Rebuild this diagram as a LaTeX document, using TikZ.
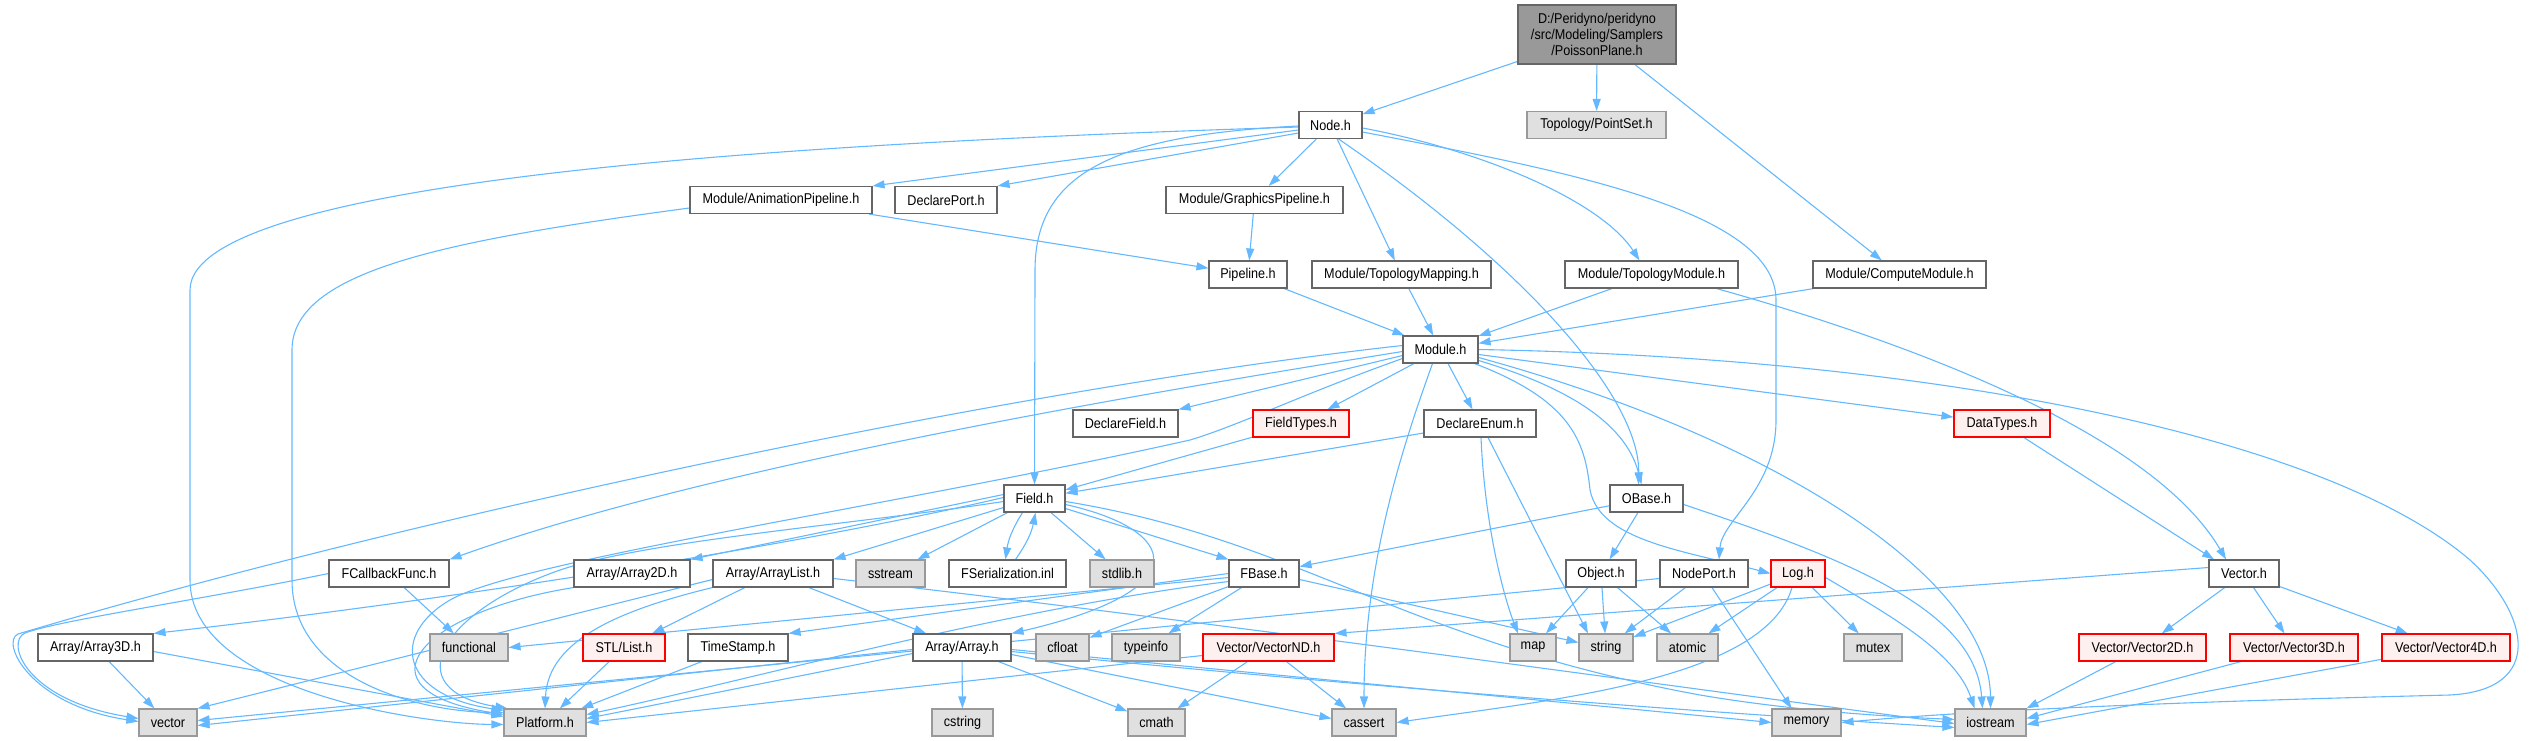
\documentclass[tikz,border=0pt]{standalone}
\usepackage{fontspec}
\setmainfont{Liberation Sans}[FakeStretch=0.89]
\usetikzlibrary{arrows.meta}
\definecolor{edgec}{HTML}{63B8FF}
\definecolor{bordc}{HTML}{666666}
\definecolor{sysfill}{HTML}{E0E0E0}
\definecolor{sysbord}{HTML}{999999}
\definecolor{redfill}{HTML}{FFF0F0}
\definecolor{rootfill}{HTML}{999999}
\pgfdeclarelayer{bg}
\pgfsetlayers{bg,main}
\begin{document}
\begin{tikzpicture}[x=1pt,y=-1pt,
  font=\fontsize{14.2}{16.2}\selectfont,
  nd/.style={draw=bordc, fill=white, line width=1.1pt, minimum height=27pt, inner sep=1pt, text=black},
  sysbox/.style={nd, draw=sysbord, fill=sysfill},
  redbox/.style={nd, draw=red, fill=redfill},
  rootbox/.style={nd, fill=rootfill, align=center},
  ed/.style={draw=edgec, line width=1.1pt, -{Triangle[length=12pt,width=8pt]}}]
\useasboundingbox (0,0) rectangle (2534,741);
% row 0-1
\node[rootbox, minimum width=158pt, minimum height=59pt] (root) at (1597,34.5) {D:/Peridyno/peridyno\\/src/Modeling/Samplers\\/PoissonPlane.h};
\node[nd, minimum width=63pt] (node) at (1330.5,125) {Node.h};
\node[sysbox, minimum width=139pt] (pointset) at (1596.5,125) {Topology/PointSet.h};
% row 2
\node[nd, minimum width=182pt] (animpipe) at (781,200) {Module/AnimationPipeline.h};
\node[nd, minimum width=102pt] (declareport) at (946,200) {DeclarePort.h};
\node[nd, minimum width=177pt] (graphpipe) at (1254.5,200) {Module/GraphicsPipeline.h};
% row 3
\node[nd, minimum width=78pt] (pipeline) at (1248,274.5) {Pipeline.h};
\node[nd, minimum width=179pt] (topomapping) at (1401.5,274.5) {Module/TopologyMapping.h};
\node[nd, minimum width=173pt] (topomodule) at (1651.5,274.5) {Module/TopologyModule.h};
\node[nd, minimum width=173pt] (compute) at (1899.5,274.5) {Module/ComputeModule.h};
% row 4
\node[nd, minimum width=75pt] (module) at (1440.5,349.5) {Module.h};
% row 5
\node[nd, minimum width=105pt] (declarefield) at (1125.5,423.5) {DeclareField.h};
\node[redbox, minimum width=96pt] (fieldtypes) at (1301,423.5) {FieldTypes.h};
\node[nd, minimum width=112pt] (declareenum) at (1480,423.5) {DeclareEnum.h};
\node[redbox, minimum width=96pt] (datatypes) at (2002,423.5) {DataTypes.h};
% row 6
\node[nd, minimum width=61pt] (field) at (1034.5,498.5) {Field.h};
\node[nd, minimum width=73pt] (obase) at (1646.5,498.5) {OBase.h};
% row 7
\node[nd, minimum width=120pt] (fcallback) at (389,573.5) {FCallbackFunc.h};
\node[nd, minimum width=116pt] (array2d) at (632,573.5) {Array/Array2D.h};
\node[nd, minimum width=120pt] (arraylist) at (773,573.5) {Array/ArrayList.h};
\node[sysbox, minimum width=69pt] (sstream) at (890.5,573.5) {sstream};
\node[nd, minimum width=117pt] (fserial) at (1007.5,573.5) {FSerialization.inl};
\node[sysbox, minimum width=64pt] (stdlib) at (1122,573.5) {stdlib.h};
\node[nd, minimum width=70pt] (fbase) at (1264,573.5) {FBase.h};
\node[nd, minimum width=70pt] (object) at (1601,573.5) {Object.h};
\node[nd, minimum width=88pt] (nodeport) at (1704,573.5) {NodePort.h};
\node[redbox, minimum width=54pt] (log) at (1798,573.5) {Log.h};
\node[nd, minimum width=70pt] (vector) at (2244,573.5) {Vector.h};
% row 8
\node[nd, minimum width=115pt] (array3d) at (95.5,647.5) {Array/Array3D.h};
\node[sysbox, minimum width=78pt] (functional) at (469,647.5) {functional};
\node[redbox, minimum width=82pt] (stllist) at (624,647.5) {STL/List.h};
\node[nd, minimum width=100pt] (timestamp) at (738,647.5) {TimeStamp.h};
\node[nd, minimum width=98pt] (array) at (962,647.5) {Array/Array.h};
\node[sysbox, minimum width=53pt] (cfloat) at (1062.5,647.5) {cfloat};
\node[sysbox, minimum width=68pt] (typeinfo) at (1146,647.5) {typeinfo};
\node[redbox, minimum width=131pt] (vectornd) at (1268.5,647.5) {Vector/VectorND.h};
\node[sysbox, minimum width=46pt] (map) at (1533,647.5) {map};
\node[sysbox, minimum width=54pt] (string) at (1606,647.5) {string};
\node[sysbox, minimum width=61pt] (atomic) at (1687.5,647.5) {atomic};
\node[sysbox, minimum width=58pt] (mutex) at (1873,647.5) {mutex};
\node[redbox, minimum width=127pt] (vector2d) at (2142.5,647.5) {Vector/Vector2D.h};
\node[redbox, minimum width=128pt] (vector3d) at (2294,647.5) {Vector/Vector3D.h};
\node[redbox, minimum width=128pt] (vector4d) at (2446,647.5) {Vector/Vector4D.h};
% row 9
\node[sysbox, minimum width=58pt] (vec) at (168,722.5) {vector};
\node[sysbox, minimum width=82pt] (platform) at (545,722.5) {Platform.h};
\node[sysbox, minimum width=61pt] (cstring) at (962.5,722.5) {cstring};
\node[sysbox, minimum width=57pt] (cmath) at (1156.5,722.5) {cmath};
\node[sysbox, minimum width=64pt] (cassert) at (1364,722.5) {cassert};
\node[sysbox, minimum width=69pt] (memory) at (1806.5,722.5) {memory};
\node[sysbox, minimum width=71pt] (iostream) at (1990.5,722.5) {iostream};

\begin{pgfonlayer}{bg}
% root
\draw[ed] (root) -- (node);
\draw[ed] (root) -- (pointset);
\draw[ed] (root) -- (compute);
% Node.h
\draw[ed] ([yshift=-2pt]node.west) .. controls (900,140) and (190,170) .. (190,290) -- (190,580) .. controls (190,690) and (420,724) .. ([yshift=-2pt]platform.west);
\draw[ed] ([yshift=-1pt]node.west) .. controls (1120,135) and (1035,170) .. (1035,270) -- (field.north);
\draw[ed] ([yshift=-5pt]node.west) -- (animpipe.north east);
\draw[ed] ([yshift=-8pt]node.west) -- (declareport.north east);
\draw[ed] (node) -- (graphpipe);
\draw[ed] (node) -- (topomapping);
\draw[ed] (node.-60) .. controls (1530,270) and (1640,400) .. ([xshift=-8pt]obase.north);
\draw[ed] ([yshift=-3pt]node.east) .. controls (1480,150) and (1600,200) .. ([xshift=-12pt]topomodule.north);
\draw[ed] ([yshift=-7pt]node.east) .. controls (1560,170) and (1776,210) .. (1776,300) -- (1776,420) .. controls (1776,490) and (1722,520) .. ([xshift=15pt]nodeport.north);
% pipelines
\draw[ed] (animpipe) -- (pipeline);
\draw[ed] ([yshift=-8pt]animpipe.west) .. controls (450,240) and (292,270) .. (292,350) -- (292,580) .. controls (292,680) and (420,712) .. ([yshift=10pt]platform.west);
\draw[ed] (graphpipe) -- (pipeline);
\draw[ed] (pipeline) -- (module);
\draw[ed] (topomapping) -- (module);
\draw[ed] (topomodule) -- (module);
\draw[ed] (compute) -- (module);
\draw[ed] ([xshift=-22pt]topomodule.south east) .. controls (1900,340) and (2150,430) .. ([xshift=-18pt]vector.north);
\draw[ed] (datatypes) -- ([xshift=-30pt]vector.north);
% Module.h
\draw[ed] ([yshift=4pt]module.west) .. controls (1000,390) and (400,520) .. (18,634) .. controls (0,642) and (30,705) .. ([yshift=1pt]vec.west);
\draw[ed] ([yshift=-2pt]module.west) .. controls (1100,400) and (700,470) .. (fcallback.north east);
\draw[ed] ([yshift=-6pt]module.west) -- (declarefield.north east);
\draw[ed] ([yshift=-9pt]module.west) .. controls (1300,395) and (1240,425) .. (1190,440) .. controls (900,505) and (520,560) .. (450,600) .. controls (390,635) and (400,695) .. ([yshift=-2pt]platform.north west);
\draw[ed] (module) -- (fieldtypes);
\draw[ed] ([xshift=-8pt]module.south) .. controls (1405,440) and (1364,560) .. (cassert.north);
\draw[ed] (module) -- (declareenum);
\draw[ed] (module) -- (datatypes);
\draw[ed] (module.east) .. controls (1950,358) and (2330,440) .. (2470,560) .. controls (2530,615) and (2545,690) .. (2450,695) .. controls (2250,700) and (2000,708) .. (memory.east);
\draw[ed] ([yshift=-8pt]module.east) .. controls (1780,440) and (1990,580) .. (iostream.north);
\draw[ed] ([yshift=-11pt]module.east) .. controls (1560,385) and (1625,420) .. ([xshift=-5pt]obase.north);
\draw[ed] ([xshift=-4pt]module.south east) .. controls (1570,400) and (1585,440) .. (1590,490) .. controls (1600,540) and (1680,550) .. (log.west);
% DeclareEnum, FieldTypes
\draw[ed] (declareenum) -- (field);
\draw[ed] ([xshift=1pt]declareenum.south) .. controls (1485,530) and (1505,600) .. ([xshift=-15pt]map.north);
\draw[ed] ([xshift=8pt]declareenum.south) -- ([xshift=-18pt]string.north);
\draw[ed] (fieldtypes) -- (field);
% Field.h
\draw[ed] ([yshift=4pt]field.west) -- (array2d.north east);
\draw[ed] ([yshift=-9pt]field.west) -- (arraylist.north east);
\draw[ed] ([yshift=1pt]field.west) .. controls (800,545) and (450,600) .. (array3d.north east);
\draw[ed] ([yshift=-3pt]field.west) .. controls (850,525) and (650,540) .. (560,570) .. controls (440,612) and (395,690) .. ([xshift=4pt]platform.north west);
\draw[ed] (field) -- (sstream);
\draw[ed] ([xshift=-12pt]field.south) to[bend right=12] ([xshift=-2pt]fserial.north);
\draw[ed] ([xshift=8pt]fserial.north) to[bend right=12] ([xshift=1pt]field.south);
\draw[ed] (field) -- (stdlib);
\draw[ed] ([yshift=-10pt]field.east) -- (fbase.north west);
\draw[ed] ([yshift=-6pt]field.east) .. controls (1180,530) and (1200,590) .. (array.north east);
\draw[ed] ([yshift=-3pt]field.east) .. controls (1300,540) and (1400,640) .. (1700,695) .. controls (1800,712) and (1900,717) .. ([yshift=3pt]iostream.west);
% Array2D, ArrayList, Array3D, FCallbackFunc
\draw[ed] (array2d.south west) .. controls (420,612) and (350,690) .. ([yshift=-6pt]platform.north west);
\draw[ed] ([yshift=-6pt]arraylist.west) -- (vec.north east);
\draw[ed] (arraylist.south west) .. controls (620,610) and (548,640) .. (platform.north);
\draw[ed] (arraylist) -- (stllist);
\draw[ed] (arraylist) -- (array);
\draw[ed] ([yshift=-5pt]arraylist.east) .. controls (1200,620) and (1700,690) .. ([yshift=-1pt]iostream.west);
\draw[ed] (array3d) -- (vec);
\draw[ed] ([yshift=-4pt]array3d.east) -- ([yshift=6pt]platform.west);
\draw[ed] (fcallback) -- (functional);
\draw[ed] (fcallback.west) .. controls (200,600) and (60,620) .. (25,633) .. controls (5,642) and (25,700) .. ([yshift=4pt]vec.west);
\draw[ed] (stllist) -- (platform);
\draw[ed] (timestamp) -- (platform);
% Array.h
\draw[ed] (array) -- (cstring);
\draw[ed] (array) -- (cmath);
\draw[ed] ([yshift=-7pt]array.east) -- ([yshift=4pt]cassert.west);
\draw[ed] ([yshift=-2pt]array.east) -- (memory.west);
\draw[ed] ([yshift=-4pt]array.east) .. controls (1400,690) and (1700,712) .. ([yshift=-5pt]iostream.west);
\draw[ed] ([yshift=-2pt]array.west) -- ([yshift=-3pt]vec.east);
\draw[ed] ([yshift=-6pt]array.west) -- ([yshift=4pt]platform.east);
% VectorND
\draw[ed] (vectornd) -- (cmath);
\draw[ed] (vectornd) -- (cassert);
\draw[ed] ([yshift=-8pt]vectornd.west) -- (platform.east);
% FBase
\draw[ed] (fbase) -- (cfloat);
\draw[ed] (fbase) -- (typeinfo);
\draw[ed] ([yshift=-6pt]fbase.east) -- ([yshift=5pt]string.west);
\draw[ed] (fbase.west) -- (timestamp.north east);
\draw[ed] ([yshift=-4pt]fbase.west) -- (functional.east);
\draw[ed] ([yshift=-8pt]fbase.west) .. controls (1000,610) and (750,680) .. ([yshift=8pt]platform.east);
% OBase, Object, NodePort
\draw[ed] (obase) -- (fbase);
\draw[ed] (obase) -- (object);
\draw[ed] ([yshift=-6pt]obase.east) .. controls (1850,560) and (1975,610) .. ([xshift=-8pt]iostream.north);
\draw[ed] (object) -- (map);
\draw[ed] (object) -- (string);
\draw[ed] (object) -- (atomic);
\draw[ed] (nodeport) -- (string);
\draw[ed] ([xshift=8pt]nodeport.south) -- ([xshift=-15pt]memory.north);
\draw[ed] ([yshift=-5pt]nodeport.west) -- ([yshift=2pt]vec.east);
% Log.h
\draw[ed] (log) -- (string);
\draw[ed] (log) -- (atomic);
\draw[ed] (log) -- (mutex);
\draw[ed] ([yshift=-4pt]log.east) .. controls (1880,610) and (1955,650) .. ([xshift=-16pt]iostream.north);
\draw[ed] ([xshift=-6pt]log.south) .. controls (1765,680) and (1550,700) .. (cassert.east);
% Vector.h
\draw[ed] ([yshift=6pt]vector.west) -- (vectornd.north east);
\draw[ed] (vector) -- (vector2d);
\draw[ed] (vector) -- (vector3d);
\draw[ed] (vector) -- (vector4d);
\draw[ed] (vector2d) -- (iostream.north east);
\draw[ed] (vector3d) -- ([yshift=4pt]iostream.east);
\draw[ed] (vector4d) -- ([yshift=-2pt]iostream.east);
\end{pgfonlayer}
\end{tikzpicture}
\end{document}
